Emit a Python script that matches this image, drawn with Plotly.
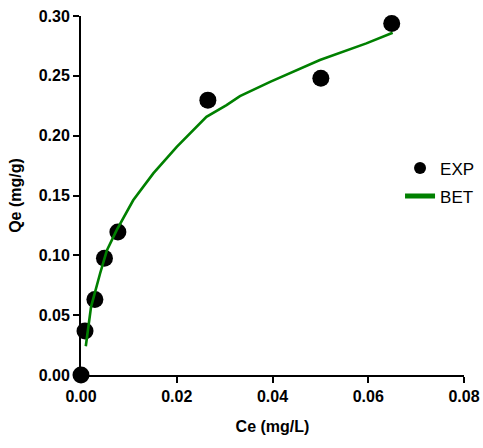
import plotly.graph_objects as go

# Experimental data
exp_ce = [0.0, 0.00084, 0.0029, 0.0049, 0.0077, 0.0265, 0.0501, 0.0649]
exp_qe = [0.0, 0.0368, 0.063, 0.0975, 0.1195, 0.2297, 0.248, 0.2938]

# BET model curve
bet_ce = [0.0010, 0.0021, 0.0040, 0.0054, 0.00745, 0.0109, 0.0151, 0.0200,
          0.0262, 0.0304, 0.0332, 0.0395, 0.0499, 0.0596, 0.0651]
bet_qe = [0.024, 0.057, 0.085, 0.104, 0.121, 0.146, 0.1685, 0.1907,
          0.2158, 0.2256, 0.2331, 0.2450, 0.2632, 0.2771, 0.2860]

x_ticks = [0.00, 0.02, 0.04, 0.06, 0.08]
y_ticks = [0.00, 0.05, 0.10, 0.15, 0.20, 0.25, 0.30]

FONT = "Liberation Sans, Arial, sans-serif"

fig = go.Figure()
fig.add_trace(go.Scatter(x=exp_ce, y=exp_qe, mode="markers", name="EXP",
                         legendgroup="exp",
                         marker=dict(color="black", size=17),
                         cliponaxis=False))
fig.add_trace(go.Scatter(x=bet_ce, y=bet_qe, mode="lines", name="BET",
                         legendgroup="bet",
                         line=dict(color="#008000", width=2.6),
                         cliponaxis=False))

axis_common = dict(showgrid=False, zeroline=False, showline=True,
                   linecolor="black", linewidth=2, ticks="outside",
                   ticklen=6, tickwidth=2, tickcolor="black",
                   tickfont=dict(family=FONT, size=16, color="black", weight="bold"),
                   ticklabeloverflow="allow",
                   mirror=False, automargin=False)

fig.update_layout(
    width=483, height=448,
    margin=dict(l=81, r=19, t=16, b=73, autoexpand=False),
    plot_bgcolor="white", paper_bgcolor="white",
    xaxis=dict(range=[0, 0.08], tickvals=x_ticks,
               ticktext=[f"{v:.2f}" for v in x_ticks],
               title=dict(text="Ce (mg/L)", standoff=17,
                          font=dict(family=FONT, size=16, color="black", weight="bold")),
               **axis_common),
    yaxis=dict(range=[0, 0.30], tickvals=y_ticks,
               ticktext=[f"{v:.2f}" for v in y_ticks],
               title=dict(text="Qe (mg/g)", standoff=13,
                          font=dict(family=FONT, size=16, color="black", weight="bold")),
               **axis_common),
    legend=dict(x=0.833, y=0.6256, xanchor="left", yanchor="top",
                font=dict(family=FONT, size=17, color="black"),
                itemsizing="constant", tracegroupgap=3, traceorder="grouped",
                bgcolor="rgba(0,0,0,0)"),
    showlegend=True,
)

fig.write_html(
    "out.html",
    config={"displayModeBar": False, "responsive": False},
    post_script="document.body.style.margin='0';document.body.style.padding='0';"
                "document.body.style.overflow='hidden';",
)
